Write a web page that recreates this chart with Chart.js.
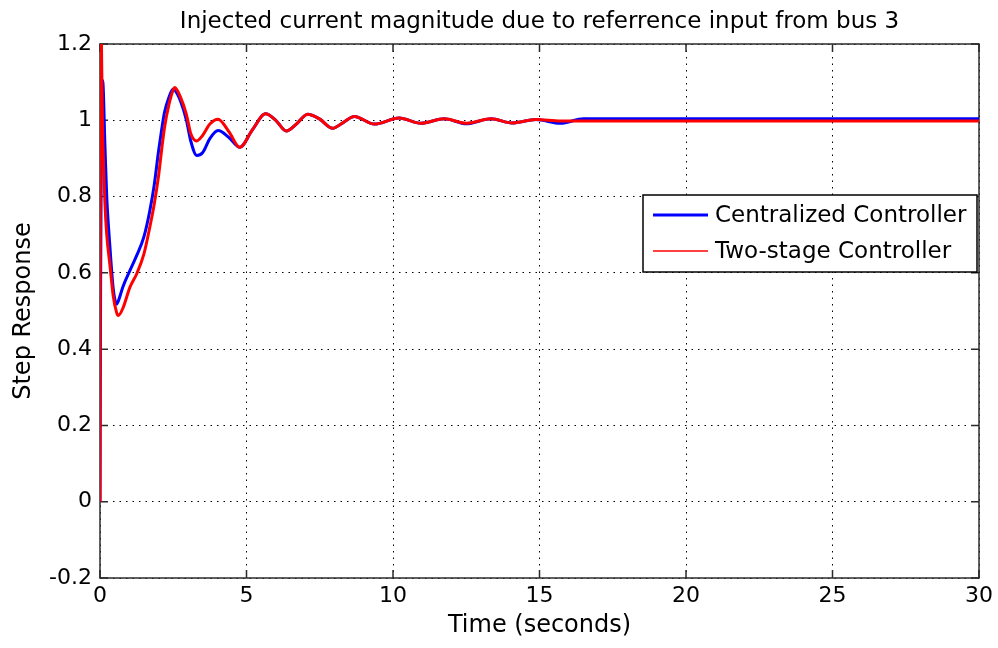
<!DOCTYPE html>
<html>
<head>
<meta charset="utf-8">
<title>Injected current magnitude</title>
<script src="https://cdn.jsdelivr.net/npm/chart.js@4.4.1/dist/chart.umd.min.js"></script>
<style>
  html, body { margin: 0; padding: 0; background: #fff; }
  canvas { display: block; }
</style>
</head>
<body>
<canvas id="stepChart" width="998" height="648"></canvas>
<script>
// step response samples (seconds)
const time = [0, 0.02, 0.09, 0.17, 0.23, 0.34, 0.45, 0.57, 0.62, 0.79, 1.02, 1.25, 1.5, 1.7, 1.85, 2.0, 2.1, 2.2, 2.35, 2.5, 2.55, 2.75, 2.95, 3.1, 3.3, 3.5, 3.75, 4.03, 4.4, 4.77, 5.2, 5.65, 6.0, 6.36, 6.7, 7.09, 7.5, 7.94, 8.3, 8.68, 9.36, 10.21, 10.95, 11.75, 12.5, 13.35, 14.06, 14.88, 15.72, 16.5, 30]
const centralized = [0, 0.55, 1.104, 0.93, 0.80, 0.667, 0.56, 0.518, 0.525, 0.565, 0.606, 0.645, 0.695, 0.763, 0.83, 0.92, 0.973, 1.02, 1.06, 1.082, 1.08, 1.05, 1.0, 0.945, 0.908, 0.915, 0.952, 0.973, 0.955, 0.929, 0.975, 1.017, 1.0, 0.972, 0.99, 1.016, 1.003, 0.979, 0.994, 1.01, 0.99, 1.006, 0.992, 1.004, 0.991, 1.004, 0.993, 1.002, 0.992, 1.004, 1.004]
const twoStage = [0, 1.3, 0.97, 0.78, 0.70, 0.62, 0.54, 0.495, 0.488, 0.509, 0.562, 0.597, 0.65, 0.72, 0.78, 0.855, 0.92, 0.98, 1.04, 1.08, 1.086, 1.06, 1.015, 0.965, 0.946, 0.96, 0.99, 1.003, 0.97, 0.929, 0.975, 1.017, 1.0, 0.972, 0.99, 1.016, 1.003, 0.979, 0.994, 1.01, 0.99, 1.006, 0.992, 1.004, 0.992, 1.004, 0.993, 1.002, 0.998, 0.998, 0.998]

const xRange = [0, 30]
const yRange = [-0.2, 1.2]
const chartTitle = 'Injected current magnitude due to referrence input from bus 3'

const FONT = "'DejaVu Sans', sans-serif"

function points(values) {
    return values.map((v, i) => ({ x: time[i], y: v }))
}

// box, inward tick marks, title and legend drawn MATLAB style
const matlabFrame = {
    id: 'matlabFrame',
    beforeDatasetsDraw(chart) {
        const { ctx, chartArea: a, scales: { x, y } } = chart
        ctx.save()
        ctx.strokeStyle = '#2b2b2b'
        ctx.lineWidth = 1.5
        ctx.strokeRect(a.left, a.top, a.right - a.left, a.bottom - a.top)
        ctx.beginPath()
        x.ticks.forEach(t => {
            const px = x.getPixelForValue(t.value)
            ctx.moveTo(px, a.bottom); ctx.lineTo(px, a.bottom - 8)
            ctx.moveTo(px, a.top); ctx.lineTo(px, a.top + 8)
        })
        y.ticks.forEach(t => {
            const py = y.getPixelForValue(t.value)
            ctx.moveTo(a.left, py); ctx.lineTo(a.left + 8, py)
            ctx.moveTo(a.right, py); ctx.lineTo(a.right - 8, py)
        })
        ctx.stroke()
        ctx.restore()
    },
    afterDraw(chart) {
        const { ctx, chartArea: a } = chart
        ctx.save()
        ctx.fillStyle = '#000'
        ctx.font = `23px ${FONT}`
        ctx.textAlign = 'center'
        ctx.textBaseline = 'middle'
        ctx.fillText(chartTitle, (a.left + a.right) / 2, 22)

        // legend box
        const lx = 643, ly = 195, lw = 334, lh = 77
        ctx.fillStyle = '#fff'
        ctx.fillRect(lx, ly, lw, lh)
        ctx.strokeStyle = '#000'
        ctx.lineWidth = 1.5
        ctx.strokeRect(lx, ly, lw, lh)
        ctx.font = `23px ${FONT}`
        ctx.textAlign = 'left'
        chart.data.datasets.forEach((ds, i) => {
            const cy = ly + 20 + i * 36
            ctx.strokeStyle = ds.borderColor
            ctx.lineWidth = i === 0 ? 3 : 1.5
            ctx.beginPath()
            ctx.moveTo(lx + 10, cy)
            ctx.lineTo(lx + 65, cy)
            ctx.stroke()
            ctx.fillStyle = '#000'
            ctx.fillText(ds.label, lx + 72, cy + 1)
        })
        ctx.restore()
    }
}

const ctx = document.getElementById('stepChart').getContext('2d')
const stepChart = new Chart(ctx, {
    type: 'line',
    data: {
        datasets: [{
            label: 'Centralized Controller',
            data: points(centralized),
            borderColor: '#0000ff',
            borderWidth: 3,
            order: 1
        }, {
            label: 'Two-stage Controller',
            data: points(twoStage),
            borderColor: '#ff0000',
            borderWidth: 3,
            order: 0
        }]
    },
    options: {
        responsive: false,
        animation: false,
        layout: { padding: { left: 0, right: 17, top: 44, bottom: 0 } },
        elements: {
            point: { radius: 0 },
            line: { cubicInterpolationMode: 'monotone' }
        },
        plugins: {
            legend: { display: false },
            title: { display: false },
            tooltip: { enabled: false }
        },
        scales: {
            x: {
                type: 'linear',
                min: xRange[0],
                max: xRange[1],
                afterFit(scale) { scale.height = 70 },
                ticks: {
                    stepSize: 5,
                    color: '#000',
                    padding: 5,
                    maxRotation: 0,
                    font: { family: FONT, size: 22 }
                },
                grid: { color: '#000', lineWidth: 1, drawTicks: false },
                border: { display: false, dash: [1.5, 5] },
                title: {
                    display: true,
                    text: 'Time (seconds)',
                    color: '#000',
                    font: { family: FONT, size: 24 },
                    padding: { top: 0, bottom: 8 }
                }
            },
            y: {
                min: yRange[0],
                max: yRange[1],
                afterFit(scale) { scale.width = 100 },
                ticks: {
                    stepSize: 0.2,
                    color: '#000',
                    padding: 8,
                    font: { family: FONT, size: 22 },
                    callback: v => String(parseFloat(v.toFixed(1)))
                },
                grid: { color: '#000', lineWidth: 1, drawTicks: false },
                border: { display: false, dash: [1.5, 5] },
                title: {
                    display: true,
                    text: 'Step Response',
                    color: '#000',
                    font: { family: FONT, size: 24 },
                    padding: { top: 9, bottom: 0 }
                }
            }
        }
    },
    plugins: [matlabFrame]
})
</script>
</body>
</html>
